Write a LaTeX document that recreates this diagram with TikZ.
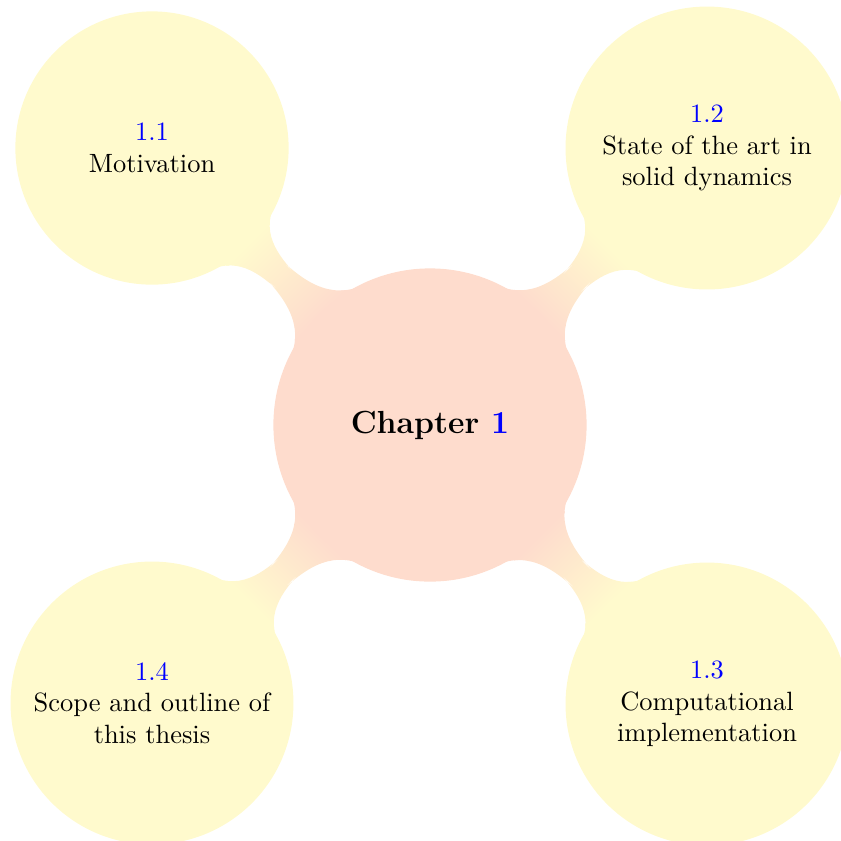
\documentclass[tikz,border=0pt]{standalone}
\usetikzlibrary{mindmap,backgrounds}
\definecolor{rootcol}{RGB}{254,220,205}
\definecolor{leafcol}{RGB}{255,250,205}
\begin{document}
\begin{tikzpicture}[x=0.363pt,y=-0.363pt,mindmap,
  rootconcept/.style={concept, concept color=rootcol, minimum size=112.5pt,
    text width=, inner sep=0pt, align=center,
    font=\fontsize{11.6}{13.9}\selectfont\bfseries},
  leafconcept/.style={concept, concept color=leafcol, text width=,
    inner sep=0pt, align=center, font=\fontsize{9.6}{11.5}\selectfont},
  link/.style={circle connection bar switch color=from (rootcol) to (leafcol)}]
\useasboundingbox (0,0) rectangle (841,840);

% central concept
\node[rootconcept] (root) at (430,425) {Chapter \textcolor{blue}{1}};

% sections
\node[leafconcept, minimum size=98pt] (s1) at (152,148)
  {\textcolor{blue}{1.1}\\Motivation};
\node[leafconcept, minimum size=101.5pt] (s2) at (707,148)
  {\textcolor{blue}{1.2}\\State of the art in\\solid dynamics};
\node[leafconcept, minimum size=101.5pt] (s3) at (707,704)
  {\textcolor{blue}{1.3}\\Computational\\implementation};
\node[leafconcept, minimum size=101.5pt] (s4) at (152,703)
  {\textcolor{blue}{1.4}\\Scope and outline of\\this thesis};

% connection bars behind the circles
\begin{pgfonlayer}{background}
  \path (root) to[link] (s1);
  \path (root) to[link] (s2);
  \path (root) to[link] (s3);
  \path (root) to[link] (s4);
\end{pgfonlayer}
\end{tikzpicture}
\end{document}
